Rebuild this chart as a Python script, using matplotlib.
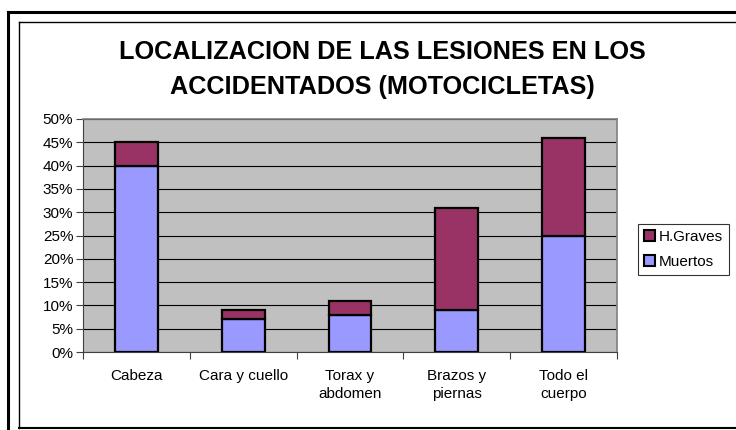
import matplotlib
matplotlib.use("Agg")
import matplotlib.pyplot as plt
from matplotlib.patches import Patch
import numpy as np

categories = ["Cabeza", "Cara y cuello", "Torax y\nabdomen", "Brazos y\npiernas", "Todo el\ncuerpo"]
muertos = [40, 7, 8, 9, 25]
graves = [5, 2, 3, 22, 21]
yticks = [0, 5, 10, 15, 20, 25, 30, 35, 40, 45, 50]
title_lines = ["LOCALIZACION DE LAS LESIONES EN LOS", "ACCIDENTADOS (MOTOCICLETAS)"]

plt.rcParams['font.family'] = ['Liberation Sans', 'DejaVu Sans']

W, H = 736, 430
fig = plt.figure(figsize=(W / 100, H / 100), dpi=100)
fig.patch.set_facecolor("white")

def fx(px):
    return px / W

def fy(py):
    return 1 - py / H

# frame lines (outer thick, inner thin), cropped on right/bottom
fig.add_artist(plt.Line2D([fx(8), fx(8)], [fy(12), fy(432)], color="black", lw=2.2, transform=fig.transFigure))
fig.add_artist(plt.Line2D([fx(8), fx(740)], [fy(12), fy(12)], color="black", lw=2.2, transform=fig.transFigure))
fig.add_artist(plt.Line2D([fx(19), fx(19)], [fy(22), fy(428)], color="black", lw=1.0, transform=fig.transFigure))
fig.add_artist(plt.Line2D([fx(19), fx(740)], [fy(22), fy(22)], color="black", lw=1.0, transform=fig.transFigure))
fig.add_artist(plt.Line2D([fx(19), fx(740)], [fy(428), fy(428)], color="black", lw=1.5, transform=fig.transFigure))

ax = fig.add_axes([fx(83), fy(352), fx(617) - fx(83), (352 - 119) / H])
ax.set_facecolor("#C0C0C0")

x = np.arange(len(categories))
bw = 0.40
ax.bar(x, muertos, width=bw, color="#9999FF", edgecolor="black", linewidth=1.6, zorder=3)
ax.bar(x, graves, bottom=muertos, width=bw, color="#993366", edgecolor="black", linewidth=1.6, zorder=3)

ax.set_xlim(-0.5, len(categories) - 0.5)
ax.set_ylim(0, 50)
ax.set_yticks(yticks)
ax.set_yticklabels([f"{v}%" for v in yticks], fontsize=11)
ax.yaxis.grid(True, color="black", lw=0.8, zorder=1)
ax.set_axisbelow(True)

ax.set_xticks(x)
ax.set_xticklabels(categories, fontsize=11, linespacing=1.4, va="top")
ax.tick_params(axis="x", length=0, pad=12)
# category boundary ticks
ax.set_xticks(np.arange(-0.5, len(categories), 1), minor=True)
ax.tick_params(axis="x", which="minor", length=5, width=0.8, color="#404040", direction="out")
ax.tick_params(axis="y", length=5, width=0.8, color="#404040", direction="out", pad=2)

for s in ["top", "right"]:
    ax.spines[s].set_color("#808080")
    ax.spines[s].set_linewidth(1.2)
for s in ["left", "bottom"]:
    ax.spines[s].set_color("#404040")
    ax.spines[s].set_linewidth(0.8)

fig.text(fx(382), fy(52), title_lines[0], ha="center", va="center",
         fontsize=18.2, fontweight="bold")
fig.text(fx(382), fy(87), title_lines[1], ha="center", va="center",
         fontsize=18.2, fontweight="bold")

handles = [Patch(facecolor="#993366", edgecolor="black", lw=1.5),
           Patch(facecolor="#9999FF", edgecolor="black", lw=1.5)]
leg = fig.legend(handles, ["H.Graves", "Muertos"], loc="upper left",
                 bbox_to_anchor=(fx(638), fy(224)), fontsize=11, frameon=True,
                 fancybox=False, edgecolor="black", handlelength=0.7, handleheight=0.7,
                 handletextpad=0.25, borderpad=0.4, labelspacing=0.7, borderaxespad=0)
leg.get_frame().set_linewidth(0.8)

fig.savefig("out.png", dpi=100, facecolor="white")
